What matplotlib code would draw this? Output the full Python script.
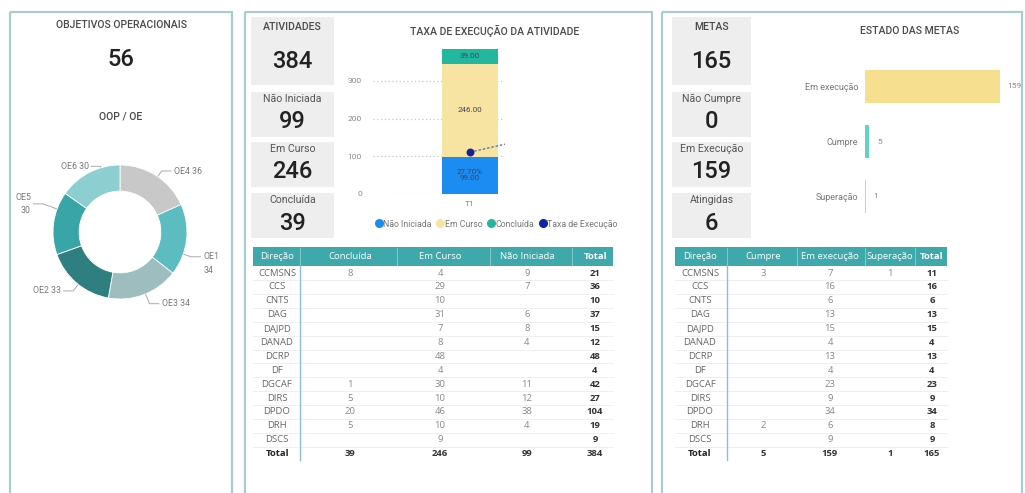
import matplotlib.pyplot as plt
from matplotlib.patches import Rectangle
from matplotlib.lines import Line2D
import numpy as np

plt.rcParams['font.family'] = ['Roboto', 'DejaVu Sans']

W, H = 1025, 493

# --- data ---
total_objetivos = 56
oe_labels = ["OE4", "OE1", "OE3", "OE2", "OE5", "OE6"]
oe_values = [36, 34, 34, 33, 30, 30]
oe_colors = ["#c8c8c8", "#5dbcbf", "#9ebdbe", "#2f7f81", "#3aa5a7", "#8dcfd0"]
oe_text = ["OE4 36", "OE1\n34", "OE3 34", "OE2 33", "OE5\n30", "OE6 30"]

ativ_kpi_labels = ["ATIVIDADES", "Não Iniciada", "Em Curso", "Concluída"]
ativ_kpi_values = [384, 99, 246, 39]

stack_labels = ["Não Iniciada", "Em Curso", "Concluída"]
stack_values = [99, 246, 39]
stack_colors = ["#1a8cf2", "#f7e4a2", "#22b89d"]
taxa_execucao = 0.277
taxa_trend = [0.277, 0.33]
periodo = "T1"

metas_kpi_labels = ["METAS", "Não Cumpre", "Em Execução", "Atingidas"]
metas_kpi_values = [165, 0, 159, 6]

estado_labels = ["Em execução", "Cumpre", "Superação"]
estado_values = [159, 5, 1]
estado_colors = ["#f6e08f", "#5fd3c6", "#a7e0dc"]

direcoes = ["CCMSNS", "CCS", "CNTS", "DAG", "DAJPD", "DANAD", "DCRP", "DF",
            "DGCAF", "DIRS", "DPDO", "DRH", "DSCS"]
at_concluida = [8, None, None, None, None, None, None, None, 1, 5, 20, 5, None]
at_em_curso = [4, 29, 10, 31, 7, 8, 48, 4, 30, 10, 46, 10, 9]
at_nao_iniciada = [9, 7, None, 6, 8, 4, None, None, 11, 12, 38, 4, None]

mt_cumpre = [3, None, None, None, None, None, None, None, None, None, None, 2, None]
mt_em_execucao = [7, 16, 6, 13, 15, 4, 13, 4, 23, 9, 34, 6, 9]
mt_superacao = [1, None, None, None, None, None, None, None, None, None, None, None, None]

fig = plt.figure(figsize=(W / 100, H / 100), dpi=100)
fig.patch.set_facecolor("white")


def px_axes(l, t, r, b):
    return fig.add_axes([l / W, 1 - b / H, (r - l) / W, (b - t) / H])


# background canvas in pixel units
ax0 = fig.add_axes([0, 0, 1, 1])
ax0.set_xlim(0, W)
ax0.set_ylim(H, 0)
ax0.axis("off")

border = "#a9cdcd"
for l, r in [(10, 232), (245, 652), (662, 1022)]:
    ax0.add_patch(Rectangle((l, 12), r - l, 500, fill=False, edgecolor=border, lw=1.6))

title_kw = dict(ha="center", va="center", fontsize=7.6, color="#4a4a4a", weight="medium")
big_kw = dict(ha="center", va="center", fontsize=17, color="#222", weight="medium")

# --- left panel ---
ax0.text(121, 25, "OBJETIVOS OPERACIONAIS", **title_kw)
ax0.text(121, 60, str(total_objetivos), **big_kw)
ax0.text(121, 117, "OOP / OE", **title_kw)

R = 67.0
axd = px_axes(120 - 111, 232 - 111, 120 + 111, 232 + 111)
axd.pie(oe_values, colors=oe_colors, startangle=90, counterclock=False, radius=1,
        wedgeprops=dict(width=0.39, edgecolor="white", linewidth=0.6))
axd.set_xlim(-111 / R, 111 / R)
axd.set_ylim(-111 / R, 111 / R)
axd.set_aspect("equal")
axd.axis("off")

label_pos = [(0.80, 0.91, "left"), (1.24, -0.47, "left"), (0.62, -1.07, "left"),
             (-0.88, -0.88, "right"), (-1.33, 0.42, "right"), (-0.47, 0.98, "right")]
for txt, (tx, ty, ha) in zip(oe_text, label_pos):
    sgn = 1 if ha == "left" else -1
    ly = ty
    if "\n" in txt:
        ly = ty + 0.1 if ha == "left" else ty
    ex, ey = tx - sgn * 0.18, ly
    d = np.hypot(ex, ey)
    rx, ry = ex / d * 1.01, ey / d * 1.01
    axd.plot([rx, ex, tx - sgn * 0.04], [ry, ey, ly], color="#aaa", lw=0.7)
    axd.text(tx, ty, txt, ha=ha, va="center", fontsize=6.3, color="#777", linespacing=1.6)

# --- KPI boxes ---
def kpi_boxes(x0, x1, labels, values):
    boxes = [(17, 85), (92, 137), (142, 187), (193, 238)]
    for i, ((t, b), lab, val) in enumerate(zip(boxes, labels, values)):
        ax0.add_patch(Rectangle((x0, t), x1 - x0, b - t, facecolor="#eeeeee", edgecolor="none"))
        cx = (x0 + x1) / 2
        if i == 0:
            ax0.text(cx, t + 10, lab, **title_kw)
            ax0.text(cx, t + 44, str(val), **big_kw)
        else:
            ax0.text(cx, t + 7, lab, ha="center", va="center", fontsize=7.6, color="#555")
            ax0.text(cx, t + 30, str(val), **big_kw)


kpi_boxes(251, 334, ativ_kpi_labels, ativ_kpi_values)
kpi_boxes(672, 751, metas_kpi_labels, metas_kpi_values)

# --- stacked bar ---
ax0.text(495, 31, "TAXA DE EXECUÇÃO DA ATIVIDADE", **title_kw)
axb = px_axes(373, 43, 505, 194)
bottom = 0
for i, (v, lab, c) in enumerate(zip(stack_values, stack_labels, stack_colors)):
    axb.bar(0, v, bottom=bottom, width=1, color=c, zorder=2)
    s = f"{v:.2f}"
    if i == 0:
        s = f"{taxa_execucao * 100:.2f}%\n{v:.2f}"
    axb.text(0, bottom + v / 2, s, ha="center", va="center", fontsize=5.8, color="#445",
             linespacing=1.0, zorder=4)
    bottom += v
axb.set_xlim(-97 / 56, 35 / 56)
axb.set_ylim(0, 400)
axb.set_yticks([0, 100, 200, 300])
axb.set_xticks([0])
axb.set_xticklabels([periodo])
axb.tick_params(length=0, labelsize=6, colors="#888")
axb.tick_params(axis="y", pad=8)
axb.tick_params(axis="x", pad=5)
axb.yaxis.grid(True, ls=(0, (1, 2)), color="#c8c8c8", lw=0.9, zorder=0)
for s in axb.spines.values():
    s.set_visible(False)
axb.set_facecolor("none")

ax2 = axb.twinx()
ax2.set_ylim(0, 1)
ax2.plot([0, 35 / 56], taxa_trend, ls=(0, (2, 1.5)), color="#5a6a9a", lw=0.9)
ax2.scatter([0], [taxa_execucao], s=22, color="#12239e", zorder=5)
ax2.axis("off")

handles = [Line2D([], [], marker="o", ls="", color=c, markersize=5.5) for c in stack_colors]
handles.append(Line2D([], [], marker="o", ls="", color="#12239e", markersize=5.5))
leg = fig.legend(handles, stack_labels + ["Taxa de Execução"], loc="center",
                 bbox_to_anchor=(496 / W, 1 - 224 / H), ncol=4, frameon=False, fontsize=6.3,
                 handletextpad=0.0, columnspacing=0.5, handlelength=1.0, borderaxespad=0)
for t in leg.get_texts():
    t.set_color("#777")

# --- horizontal bars ---
ax0.text(910, 31, "ESTADO DAS METAS", **title_kw)
axh = px_axes(865, 59, 1022, 224)
yy = np.arange(len(estado_values))
axh.barh(yy, estado_values, height=0.6, color=estado_colors)
for y, v in zip(yy, estado_values):
    axh.annotate(str(v), (v, y), xytext=(5.5, 0), textcoords="offset points",
                 ha="left", va="center", fontsize=6, color="#888")
axh.set_xlim(0, 159 * 157 / 135)
axh.set_ylim(2.5, -0.5)
axh.set_yticks(yy)
axh.set_yticklabels(estado_labels)
axh.set_xticks([])
axh.tick_params(length=0, labelsize=6.5, colors="#777", pad=5)
for s in axh.spines.values():
    s.set_visible(False)
axh.set_facecolor("none")

# --- tables ---
head_color = "#3ea8aa"
row0, dy = 273, 13.9
tfs = 6.8


def draw_table(x0, x1, cols_x, seps, headers, columns):
    ax0.add_patch(Rectangle((x0, 247), x1 - x0, 19, facecolor=head_color, edgecolor="none"))
    for sx in seps:
        ax0.plot([sx, sx], [248, 265], color="#8fd0d0", lw=0.6)
    for j, (cx, h) in enumerate(zip(cols_x, headers)):
        ax0.text(cx, 256.5, h, ha="center", va="center", fontsize=tfs, color="white",
                 family="Open Sans", weight="bold" if j == len(headers) - 1 else "normal")
    n = len(direcoes)
    totals_col = [sum(v for v in col if v) for col in columns]
    for i, d in enumerate(direcoes):
        y = row0 + i * dy
        ax0.text(cols_x[0], y, d, ha="center", va="center", fontsize=tfs, color="#666",
                 family="Open Sans")
        for cx, col in zip(cols_x[1:], columns):
            if col[i]:
                ax0.text(cx, y, str(col[i]), ha="center", va="center", fontsize=tfs,
                         color="#888", family="Open Sans")
        row_total = sum(col[i] for col in columns if col[i])
        ax0.text(cols_x[-1], y, str(row_total), ha="center", va="center", fontsize=tfs,
                 color="#333", family="Open Sans", weight="bold")
        ax0.plot([x0, x1], [y + 7, y + 7], color="#ececec", lw=0.6)
    yt = row0 + n * dy
    ax0.text(cols_x[0], yt, "Total", ha="center", va="center", fontsize=tfs, color="#222",
             family="Open Sans", weight="bold")
    for cx, t in zip(cols_x[1:], totals_col + [sum(totals_col)]):
        ax0.text(cx, yt, str(t), ha="center", va="center", fontsize=tfs, color="#333",
                 family="Open Sans", weight="bold")
    ax0.plot([seps[0], seps[0]], [266, yt + 6], color="#86bde6", lw=1.0)


draw_table(253, 613, [277, 350, 440, 527, 595], [300, 397, 490, 572],
           ["Direção", "Concluída", "Em Curso", "Não Iniciada", "Total"],
           [at_concluida, at_em_curso, at_nao_iniciada])
draw_table(675, 947, [700, 763, 830, 890, 932], [727, 797, 865, 915],
           ["Direção", "Cumpre", "Em execução", "Superação", "Total"],
           [mt_cumpre, mt_em_execucao, mt_superacao])

fig.savefig("out.png", dpi=100)
